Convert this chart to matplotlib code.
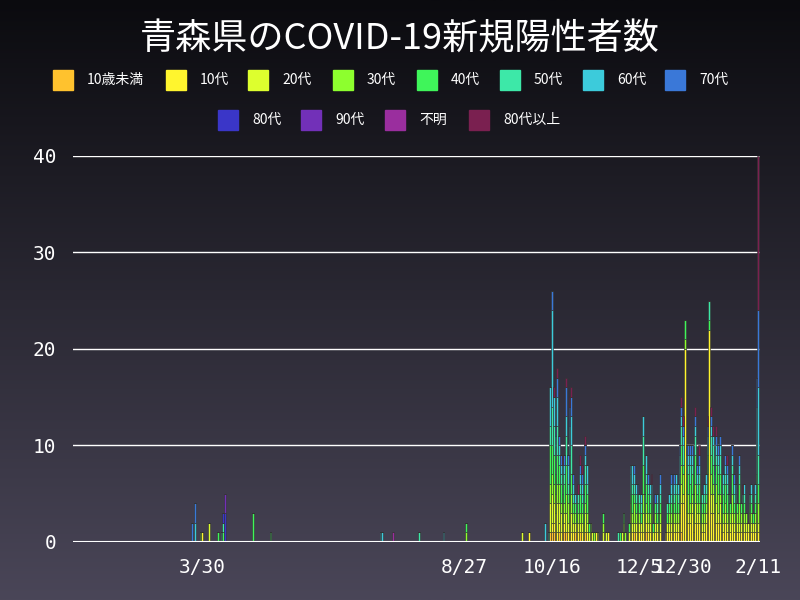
import numpy as np
import pandas as pd
import matplotlib
matplotlib.use("Agg")
import matplotlib.pyplot as plt
from matplotlib.patches import Rectangle
from matplotlib.colors import LinearSegmentedColormap

plt.rcParams['font.family'] = ['Noto Sans CJK JP', 'DejaVu Sans']

series_names = ['10歳未満', '10代', '20代', '30代', '40代', '50代', '60代', '70代', '80代', '90代', '不明', '80代以上']
colors = ['#FFC22E', '#FFF52E', '#DDFF2E', '#8DFF2E', '#3FF55A', '#3DE8A8', '#3CCBDB', '#3A78D8', '#3A36C8', '#7230B8', '#9A2E9E', '#7A2050']

# sparse early cases (date, series, count)
early_dates = ['2020-03-24', '2020-03-26', '2020-03-26', '2020-03-29', '2020-03-30', '2020-04-03',
               '2020-04-08', '2020-04-10', '2020-04-11', '2020-04-11', '2020-04-11', '2020-04-12', '2020-04-12',
               '2020-04-28', '2020-05-08', '2020-07-10', '2020-07-11', '2020-07-17', '2020-08-01',
               '2020-08-15', '2020-08-28', '2020-08-28', '2020-09-29', '2020-10-03']
early_series = ['70代', '60代', '70代', '30代', '10代', '20代',
                '40代', '50代', '40代', '50代', '80代', '80代', '90代',
                '40代', '40代', '60代', '60代', '不明', '50代',
                '60代', '30代', '40代', '20代', '10代']
early_counts = [2, 2, 2, 1, 1, 2,
                1, 1, 1, 1, 1, 3, 2,
                3, 1, 1, 1, 1, 1,
                1, 1, 1, 1, 1]

# daily counts from 2020-10-12 to 2021-02-11
wave_start = '2020-10-12'
u10 = [0,0,0,1,1,1,1,0,1,0, 1,1,1,0,1,0,0,1,0,0, 1,0,0,1,0,0,0,0,0,0, 0,0,0,0,0,0,0,0,0,0,
       0,0,0,0,0,0,0,0,0,1, 0,1,0,0,0,0,0,0,1,0, 0,0,0,0,0,0,0,0,0,0, 0,0,0,0,0,0,0,0,1,0,
       0,0,0,0,0,0,0,0,0,0, 0,0,0,0,0,0,0,0,0,0, 0,0,0,0,0,0,0,0,0,0, 0,0,0,0,0,0,0,0,0,0, 0,0,0]
t10 = [0,0,0,0,1,1,0,1,1,1, 0,1,0,1,0,1,1,0,1,1, 0,1,0,0,1,0,1,0,0,1, 0,0,0,0,0,0,1,0,0,0,
       0,0,0,0,0,0,0,0,0,1, 1,0,1,1,1,1,1,1,1,1, 1,1,0,1,1,0,1,0,0,1, 1,1,1,2,1,1,1,2,3,4,
       20,2,2,2,3,1,2,2,2,1, 1,1,2,3,22,3,3,2,2,2, 2,1,1,2,1,1,1,2,1,1, 1,1,1,1,1,1,1,1,1,1, 1,1,1]
t20 = [0,0,0,3,3,2,2,3,2,2, 1,1,2,1,2,2,1,1,1,1, 1,1,1,2,1,1,0,1,0,0, 1,0,0,1,0,1,0,0,0,0,
       0,0,0,0,1,1,0,0,1,1, 1,1,1,1,1,1,2,1,1,1, 1,1,1,1,1,1,1,0,0,0, 1,1,1,1,1,1,1,1,2,1,
       0,1,1,1,1,1,2,1,1,1, 1,1,1,2,0,2,2,1,2,1, 2,1,1,1,1,1,1,1,1,1, 1,1,1,1,1,1,1,1,1,1, 1,2,1]
t30 = [0,0,0,2,2,2,2,2,2,1, 2,1,2,2,1,2,1,1,0,1, 1,1,1,1,1,0,1,0,1,0, 0,0,0,1,0,0,0,0,0,0,
       0,0,0,0,0,1,1,0,0,1, 1,2,1,1,1,0,2,1,1,1, 1,1,0,1,0,1,1,0,0,0, 0,1,1,1,1,1,1,2,2,2,
       1,2,2,1,1,1,2,1,1,0, 1,1,1,2,0,2,1,1,2,2, 1,1,1,1,1,1,1,2,1,1, 1,2,1,1,1,1,0,1,1,0, 1,2,2]
t40 = [0,0,0,4,3,3,2,3,2,2, 1,2,3,1,2,2,1,1,1,1, 2,1,1,2,2,1,0,0,0,0, 0,0,0,1,0,0,0,0,0,0,
       0,0,0,1,0,1,0,0,1,1, 2,1,1,1,1,1,3,1,2,2, 1,1,1,1,1,1,1,0,0,0, 1,1,1,1,1,2,1,1,2,1,
       2,2,2,2,2,1,3,1,2,1, 1,1,1,2,1,2,2,1,2,2, 2,1,2,2,2,1,1,2,1,1, 1,2,1,1,1,0,0,1,1,1, 1,2,2]
t50 = [0,0,1,2,4,3,2,3,1,1, 2,1,3,1,3,3,1,0,1,1, 1,1,1,2,1,0,0,0,0,0, 0,0,0,0,0,0,0,0,0,0,
       0,0,1,0,0,0,0,0,0,2, 1,1,1,1,1,1,3,1,1,1, 1,1,0,0,1,0,1,0,0,0, 1,0,1,1,1,1,1,1,2,2,
       0,1,1,2,1,1,2,1,1,1, 1,1,1,1,2,2,2,1,1,1, 2,0,1,1,1,1,0,1,1,1, 0,1,0,1,1,0,0,1,1,0, 1,3,3]
t60 = [2,0,0,4,10,3,2,3,1,1, 1,1,2,2,3,3,1,1,1,0, 1,1,1,1,2,0,0,0,0,0, 0,0,0,0,0,0,0,0,0,0,
       0,0,0,0,0,0,0,0,0,1, 2,1,1,0,0,1,2,0,2,0, 1,1,0,0,1,0,1,0,0,0, 0,1,1,0,1,1,1,2,1,1,
       0,1,1,1,1,0,1,1,1,0, 0,1,1,1,0,1,1,1,1,1, 1,0,1,1,1,0,0,1,1,1, 0,1,0,0,1,0,0,0,1,0, 1,4,7]
t70 = [0,0,0,0,2,0,1,2,1,1, 0,1,3,1,2,2,1,0,0,0, 1,1,0,1,0,0,0,0,0,0, 0,0,0,0,0,0,0,0,0,0,
       0,0,0,0,0,0,0,0,0,0, 0,1,0,1,0,0,0,0,0,1, 0,0,0,1,0,0,1,0,0,0, 0,0,1,1,1,0,0,1,1,1,
       0,1,1,1,1,0,1,1,1,0, 0,0,0,1,0,1,0,1,1,1, 1,0,0,1,1,0,0,1,1,0, 0,1,0,0,0,0,0,0,0,0, 0,3,8]
o80 = [0,0,0,0,0,1,0,1,0,0, 1,0,1,0,1,1,0,0,0,1, 1,1,0,1,0,0,0,0,0,0, 0,0,0,0,0,0,0,0,0,0,
       0,0,0,0,0,0,0,0,0,0, 0,0,0,0,0,0,0,0,0,0, 0,1,0,0,0,0,0,0,0,0, 0,0,0,0,0,0,0,0,1,1,
       0,0,0,0,0,0,1,0,1,0, 0,0,0,1,0,1,1,0,1,0, 0,0,0,0,1,0,0,0,0,0, 0,0,0,1,0,0,0,0,0,0, 0,0,16]

xtick_labels = ['3/30', '8/27', '10/16', '12/5', '12/30', '2/11']
xtick_dates = ['2020-03-30', '2020-08-27', '2020-10-16', '2020-12-05', '2020-12-30', '2021-02-11']

days = pd.date_range('2020-01-16', '2021-02-11')
df = pd.DataFrame(0, index=days, columns=series_names)
for d, s, c in zip(early_dates, early_series, early_counts):
    df.loc[pd.Timestamp(d), s] += c
wave_idx = pd.date_range(wave_start, periods=len(u10))
for name, vals in zip(['10歳未満', '10代', '20代', '30代', '40代', '50代', '60代', '70代', '80代以上'],
                      [u10, t10, t20, t30, t40, t50, t60, t70, o80]):
    df.loc[wave_idx, name] += np.array(vals)

fig = plt.figure(figsize=(8, 6), dpi=100)
bg = fig.add_axes([0, 0, 1, 1], zorder=-10)
grad = np.linspace(0, 1, 256).reshape(-1, 1)
cmap = LinearSegmentedColormap.from_list('bg', ['#0b0b0f', '#2a2833', '#4a4658'])
bg.imshow(grad, aspect='auto', cmap=cmap, extent=[0, 1, 0, 1], origin='upper')
bg.axis('off')

ax = fig.add_axes([0.091, 0.097, 0.859, 0.643])
ax.set_facecolor('none')
bottom = np.zeros(len(df))
for name, col in zip(series_names, colors):
    v = df[name].values
    ax.bar(df.index, v, bottom=bottom, width=1.0, color=col, edgecolor='#333333', linewidth=0.4)
    bottom += v

ax.set_ylim(0, 40)
ax.set_xlim(pd.Timestamp('2020-01-16'), pd.Timestamp('2021-02-12'))
ax.set_yticks([0, 10, 20, 30, 40])
for y in [10, 20, 30, 40]:
    ax.axhline(y, color='white', linewidth=1, zorder=0.5)
ax.axhline(0, color='white', linewidth=1.5)
for s in ax.spines.values():
    s.set_visible(False)
ax.set_xticks([pd.Timestamp(d) for d in xtick_dates])
ax.set_xticklabels(xtick_labels)
ax.tick_params(colors='white', length=0, labelsize=14, pad=12)
for lab in ax.get_xticklabels() + ax.get_yticklabels():
    lab.set_family(['DejaVu Sans Mono'])
    lab.set_color('white')

fig.text(0.5, 0.935, '青森県のCOVID-19新規陽性者数', ha='center', va='center', color='white', fontsize=26)

row1 = [(53, '10歳未満'), (166, '10代'), (248, '20代'), (333, '30代'), (417, '40代'), (500, '50代'), (583, '60代'), (665, '70代')]
row2 = [(218, '80代'), (301, '90代'), (385, '不明'), (469, '80代以上')]
for y, row in [(80, row1), (120, row2)]:
    for x, name in row:
        col = colors[series_names.index(name)]
        fig.patches.append(Rectangle((x / 800, 1 - (y + 10) / 600), 20 / 800, 20 / 600,
                                     transform=fig.transFigure, color=col))
        fig.text((x + 34) / 800, 1 - y / 600, name, color='white', fontsize=10, va='center', ha='left')

fig.savefig('out.png', dpi=100)
